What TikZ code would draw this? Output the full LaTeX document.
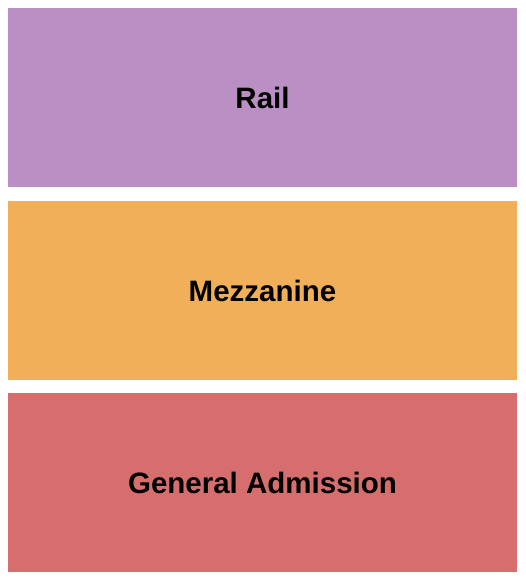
\documentclass[tikz,border=0pt]{standalone}
\usepackage{fontspec}
\setmainfont{Liberation Sans}
\definecolor{railc}{RGB}{186,143,195}
\definecolor{mezzc}{RGB}{242,175,90}
\definecolor{gac}{RGB}{215,110,110}
\begin{document}
\begin{tikzpicture}[x=1pt,y=-1pt,
  section/.style={inner sep=0pt,outer sep=0pt,minimum width=509pt,minimum height=179pt,
    font=\fontsize{29.5}{34}\selectfont\bfseries,text=black,anchor=north west}]
\useasboundingbox (0,0) rectangle (525,580);
\fill[white] (0,0) rectangle (525,580);
\node[section,fill=railc] (rail) at (8,8) {Rail};
\node[section,fill=mezzc] (mezz) at (8,201) {Mezzanine};
\node[section,fill=gac] (ga) at (8,393) {General Admission};
\end{tikzpicture}
\end{document}
